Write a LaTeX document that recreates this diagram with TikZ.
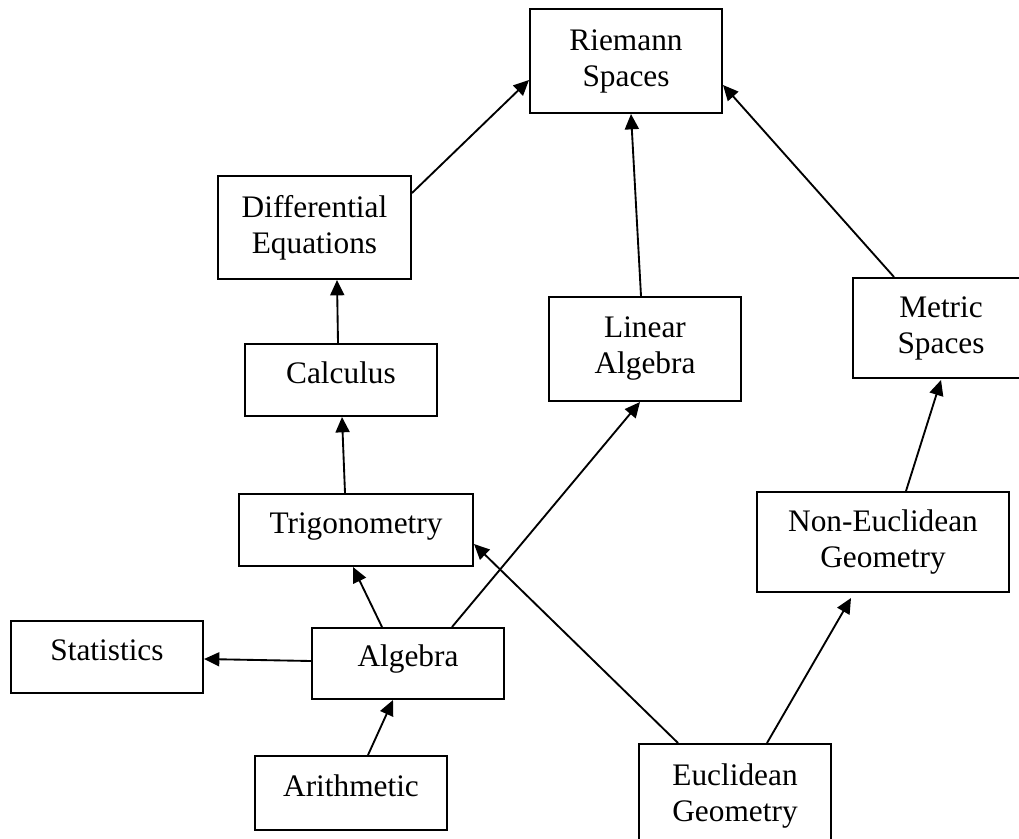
\documentclass[tikz,border=0pt]{standalone}
\usepackage{fontspec}
\setmainfont{Liberation Serif}
\usetikzlibrary{arrows.meta,calc}
\tikzset{
  bx/.style 2 args={draw, line width=1.5pt, inner sep=0pt, align=center,
    minimum width=#1*0.75pt, minimum height=#2*0.75pt,
    font=\fontsize{23.5pt}{27pt}\selectfont},
  oneline/.style={text height=15.75pt, text depth=11.25pt},
  arr/.style={line width=1.4pt, -{Triangle[length=11.5pt,width=10.5pt]}}
}
\begin{document}
\begin{tikzpicture}[x=0.75pt,y=-0.75pt]
\useasboundingbox (0,0) rectangle (1019,838);
\fill[white] (0,0) rectangle (1019,838);
\node[bx={192}{104}] (rie) at (626,61) {Riemann\\Spaces};
\node[bx={193}{103}] (dif) at (314.5,227.5) {Differential\\Equations};
\node[bx={192}{72},oneline] (calc) at (341,380) {Calculus};
\node[bx={192}{104}] (lin) at (645,349) {Linear\\Algebra};
\node[bx={176}{100}] (met) at (941,328) {Metric\\Spaces};
\node[bx={234}{72},oneline] (trig) at (356,530) {Trigonometry};
\node[bx={252}{100}] (noneuc) at (883,542) {Non-Euclidean\\Geometry};
\node[bx={192}{72},oneline] (stat) at (107,657) {Statistics};
\node[bx={192}{71},oneline] (alg) at (408,663.5) {Algebra};
\node[bx={192}{74},oneline] (arith) at (351,793) {Arithmetic};
\node[bx={192}{104}] (euc) at (735,796) {Euclidean\\Geometry};

\draw[arr] ($(arith.north)+(17,0)$) -- ($(alg.south)+(-15,0)$);
\draw[arr] ($(alg.west)+(0,-2.5)$) -- ($(stat.east)+(0,2)$);
\draw[arr] ($(alg.north)+(-26,0)$) -- ($(trig.south)+(-3,0)$);
\draw[arr] ($(alg.north)+(44,0)$) -- ($(lin.south)+(-5,0)$);
\draw[arr] ($(euc.north)+(-57,0)$) -- ($(trig.east)+(0,14)$);
\draw[arr] ($(euc.north)+(32,0)$) -- ($(noneuc.south)+(-32,5)$);
\draw[arr] ($(noneuc.north)+(23,0)$) -- ($(met.south)+(0,1)$);
\draw[arr] ($(met.north)+(-47,0)$) -- ($(rie.east)+(0,24)$);
\draw[arr] ($(lin.north)+(-4,0)$) -- ($(rie.south)+(5,0)$);
\draw[arr] ($(dif.east)+(0,-34.5)$) -- ($(rie.west)+(0,19)$);
\draw[arr] ($(calc.north)+(-3,0)$) -- ($(dif.south)+(22.5,0)$);
\draw[arr] ($(trig.north)+(-11,0)$) -- ($(calc.south)+(1,0)$);
\end{tikzpicture}
\end{document}
